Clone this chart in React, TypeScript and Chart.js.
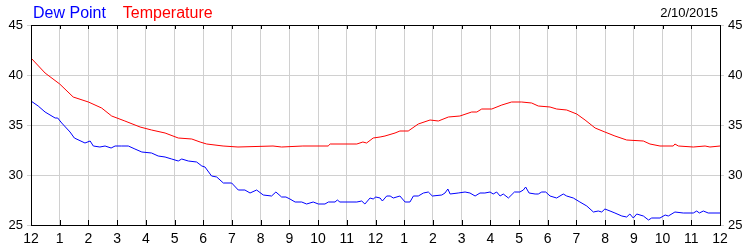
import React, { useEffect, useRef } from "react";
import { Chart, registerables } from "chart.js";

Chart.register(...registerables);

const hourLabels = ["12", "1", "2", "3", "4", "5", "6", "7", "8", "9", "10", "11", "12", "1", "2", "3", "4", "5", "6", "7", "8", "9", "10", "11", "12"];
const yTicks = [25, 30, 35, 40, 45];
const dateLabel = "2/10/2015";
const seriesNames = ["Dew Point", "Temperature"];

const tempHours = [0, 0.49, 1.0, 1.47, 2.0, 2.46, 2.81, 3.27, 3.8, 4.2, 4.67, 5.13, 5.6, 5.89, 6.12, 6.69, 7.21, 8.43, 8.73, 9.47, 10.35, 10.42, 11.35, 11.56, 11.69, 11.92, 12.16, 12.33, 12.68, 12.85, 13.14, 13.49, 13.9, 14.19, 14.54, 14.94, 15.35, 15.53, 15.7, 16.05, 16.4, 16.74, 17.09, 17.44, 17.67, 18.08, 18.31, 18.66, 19.01, 19.3, 19.65, 19.99, 20.34, 20.75, 21.33, 21.56, 21.91, 22.37, 22.43, 22.55, 23.07, 23.48, 23.65, 24];
const tempValues = [41.7, 40.2, 39.1, 37.8, 37.3, 36.7, 35.9, 35.4, 34.8, 34.5, 34.2, 33.7, 33.6, 33.3, 33.1, 32.9, 32.8, 32.9, 32.8, 32.9, 32.9, 33.1, 33.1, 33.3, 33.2, 33.7, 33.8, 33.9, 34.2, 34.4, 34.4, 35.1, 35.5, 35.4, 35.8, 35.9, 36.3, 36.3, 36.6, 36.6, 37.0, 37.3, 37.3, 37.2, 36.9, 36.8, 36.6, 36.5, 36.1, 35.5, 34.7, 34.3, 33.9, 33.5, 33.4, 33.1, 32.9, 32.9, 33.1, 32.9, 32.8, 32.9, 32.8, 32.9];

const dewHours = [0, 0.25, 0.49, 0.84, 0.93, 1.07, 1.36, 1.51, 1.88, 2.06, 2.17, 2.4, 2.58, 2.79, 2.93, 3.16, 3.39, 3.62, 3.86, 4.2, 4.43, 4.67, 4.9, 5.13, 5.25, 5.48, 5.77, 5.95, 6.06, 6.29, 6.47, 6.7, 6.99, 7.22, 7.45, 7.63, 7.86, 8.09, 8.38, 8.53, 8.73, 8.88, 9.02, 9.2, 9.43, 9.6, 9.83, 10.01, 10.24, 10.36, 10.59, 10.67, 10.76, 11.35, 11.52, 11.63, 11.81, 11.92, 12.01, 12.16, 12.24, 12.39, 12.51, 12.62, 12.85, 13.03, 13.2, 13.32, 13.49, 13.67, 13.84, 13.98, 14.31, 14.42, 14.52, 14.6, 14.88, 15.12, 15.29, 15.47, 15.64, 15.81, 15.99, 16.1, 16.22, 16.34, 16.45, 16.63, 16.84, 17.03, 17.15, 17.23, 17.35, 17.56, 17.67, 17.79, 17.93, 18.08, 18.31, 18.54, 18.66, 18.89, 19.12, 19.36, 19.59, 19.76, 19.88, 19.99, 20.17, 20.34, 20.58, 20.75, 20.86, 20.98, 21.1, 21.33, 21.51, 21.62, 21.91, 22.09, 22.2, 22.43, 22.72, 23.07, 23.19, 23.28, 23.42, 23.59, 24];
const dewValues = [37.4, 36.9, 36.3, 35.7, 35.7, 35.2, 34.3, 33.7, 33.2, 33.4, 32.9, 32.8, 32.9, 32.7, 32.9, 32.9, 32.9, 32.6, 32.3, 32.2, 31.9, 31.8, 31.6, 31.4, 31.6, 31.4, 31.3, 30.9, 30.8, 29.9, 29.8, 29.2, 29.2, 28.5, 28.5, 28.2, 28.5, 28.0, 27.9, 28.3, 27.8, 27.8, 27.6, 27.3, 27.3, 27.1, 27.3, 27.1, 27.1, 27.3, 27.3, 27.5, 27.3, 27.3, 27.4, 27.1, 27.7, 27.6, 27.8, 27.7, 27.4, 27.9, 27.9, 27.7, 27.9, 27.3, 27.3, 27.9, 27.9, 28.2, 28.3, 27.9, 28.0, 28.2, 28.6, 28.1, 28.2, 28.3, 28.2, 27.9, 28.2, 28.2, 28.3, 28.1, 28.3, 27.9, 28.1, 27.7, 28.3, 28.3, 28.5, 28.8, 28.2, 28.1, 28.1, 28.3, 28.3, 27.9, 27.7, 28.1, 27.9, 27.7, 27.3, 26.9, 26.3, 26.4, 26.3, 26.6, 26.4, 26.2, 25.9, 25.8, 26.1, 25.7, 26.1, 25.9, 25.5, 25.7, 25.7, 26.0, 25.9, 26.3, 26.2, 26.2, 26.4, 26.2, 26.4, 26.2, 26.2];

const FONT = "'Liberation Sans', Arial, sans-serif";

const framePlugin = {
  id: "frame",
  afterDatasetsDraw(chart: any) {
    const { ctx, chartArea } = chart;
    const xs = chart.scales.x;
    ctx.save();
    ctx.strokeStyle = "#000";
    ctx.lineWidth = 1;
    ctx.beginPath();
    hourLabels.forEach((_, i) => {
      const px = Math.round(xs.getPixelForValue(i)) + 0.5;
      ctx.moveTo(px, chartArea.bottom);
      ctx.lineTo(px, chartArea.bottom - 5);
      ctx.moveTo(px, chartArea.top);
      ctx.lineTo(px, chartArea.top + 4);
    });
    ctx.stroke();
    ctx.strokeRect(
      Math.round(chartArea.left) + 0.5,
      Math.round(chartArea.top) + 0.5,
      Math.round(chartArea.right - chartArea.left),
      Math.round(chartArea.bottom - chartArea.top)
    );
    ctx.restore();
  },
  afterDraw(chart: any) {
    const { ctx } = chart;
    ctx.save();
    ctx.textBaseline = "alphabetic";
    ctx.font = `16px ${FONT}`;
    ctx.textAlign = "left";
    ctx.fillStyle = "#0000ff";
    ctx.fillText(seriesNames[0], 33, 18);
    const w = ctx.measureText(seriesNames[0] + "  ").width;
    ctx.fillStyle = "#ff0000";
    ctx.fillText(seriesNames[1], 33 + w + 8, 18);
    ctx.font = `13px ${FONT}`;
    ctx.fillStyle = "#000";
    ctx.textAlign = "right";
    ctx.fillText(dateLabel, 718, 17);
    ctx.restore();
  },
};

export default function App() {
  const ref = useRef<HTMLCanvasElement | null>(null);
  useEffect(() => {
    if (!ref.current) return;
    const chart = new Chart(ref.current, {
      type: "line",
      data: {
        datasets: [
          {
            label: seriesNames[1],
            data: tempHours.map((h, i) => ({ x: h, y: tempValues[i] })),
            borderColor: "#ff0000",
            borderWidth: 1,
            pointRadius: 0,
            tension: 0,
            yAxisID: "y",
          },
          {
            label: seriesNames[0],
            data: dewHours.map((h, i) => ({ x: h, y: dewValues[i] })),
            borderColor: "#0000ff",
            borderWidth: 1,
            pointRadius: 0,
            tension: 0,
            yAxisID: "y",
          },
        ],
      },
      options: {
        animation: false,
        responsive: true,
        maintainAspectRatio: false,
        layout: { padding: { top: 25, left: 0, right: 0, bottom: 0 } },
        plugins: { legend: { display: false }, tooltip: { enabled: false }, title: { display: false } },
        scales: {
          x: {
            type: "linear",
            min: 0,
            max: 24,
            afterFit: (s: any) => { s.height = 25; },
            afterBuildTicks: (s: any) => { s.ticks = hourLabels.map((_, i) => ({ value: i })); },
            ticks: {
              autoSkip: false,
              maxRotation: 0,
              padding: 6,
              color: "#000",
              font: { family: FONT, size: 14 },
              callback: (v: any) => hourLabels[v] ?? "",
            },
            grid: { color: "#d0d0d0", drawTicks: false },
            border: { display: false },
          },
          y: {
            position: "left",
            min: 25,
            max: 45,
            afterFit: (s: any) => { s.width = 31; },
            afterBuildTicks: (s: any) => { s.ticks = yTicks.map((v) => ({ value: v })); },
            ticks: { padding: 4, color: "#000", font: { family: FONT, size: 13 } },
            grid: { color: "#d0d0d0", tickLength: 4, tickColor: "#d0d0d0" },
            border: { display: false },
          },
          y2: {
            position: "right",
            min: 25,
            max: 45,
            afterFit: (s: any) => { s.width = 30; },
            afterBuildTicks: (s: any) => { s.ticks = yTicks.map((v) => ({ value: v })); },
            ticks: { padding: 4, color: "#000", font: { family: FONT, size: 13 } },
            grid: { drawOnChartArea: false, tickLength: 4, tickColor: "#d0d0d0" },
            border: { display: false },
          },
        },
      },
      plugins: [framePlugin],
    } as any);
    return () => chart.destroy();
  }, []);
  return (
    <div style={{ position: "absolute", left: 0, top: 0, width: 750, height: 250, background: "#fff" }}>
      <canvas ref={ref} />
    </div>
  );
}
